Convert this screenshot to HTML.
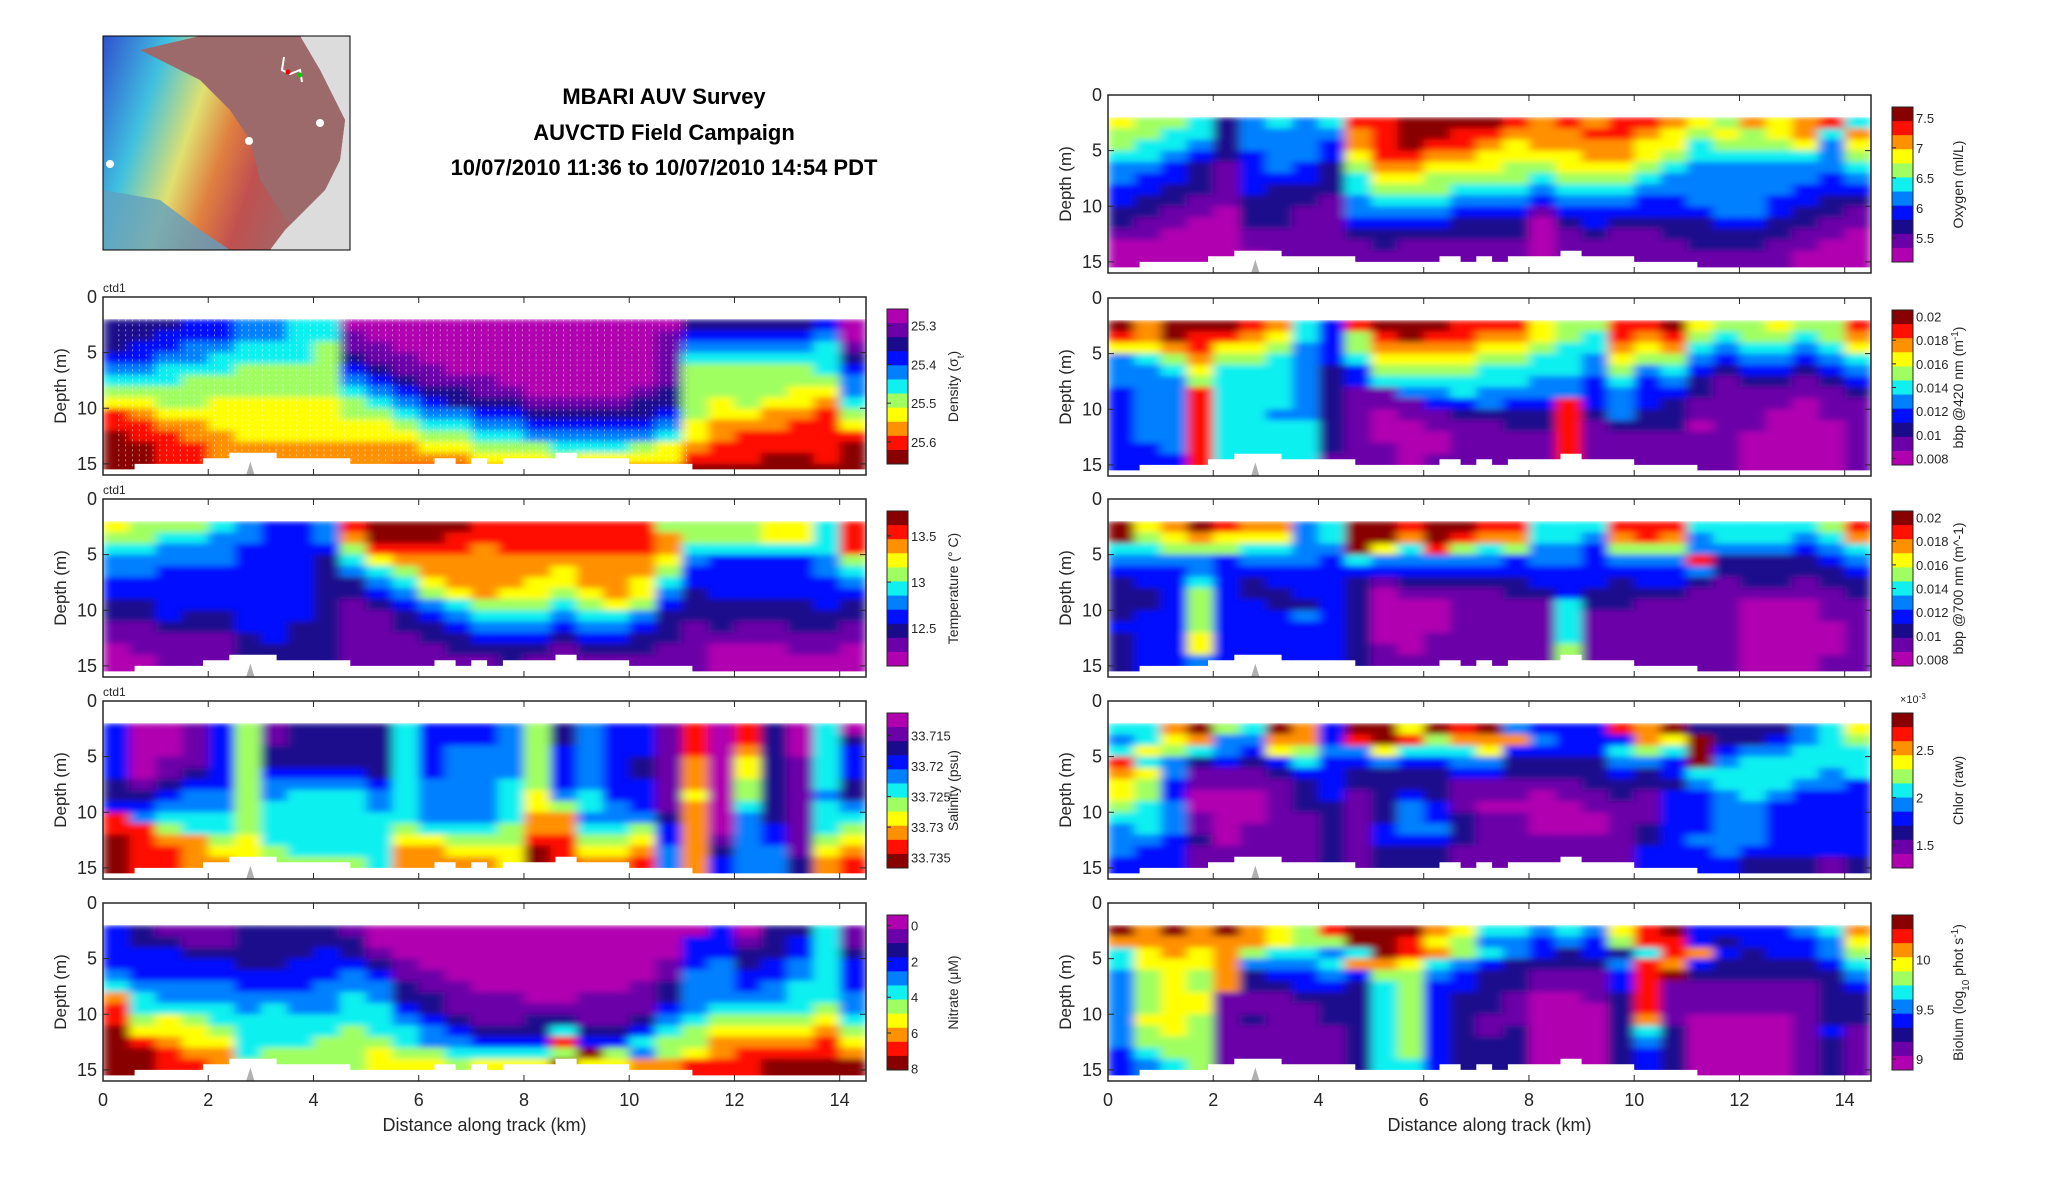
<!DOCTYPE html>
<html><head><meta charset="utf-8"><title>MBARI AUV Survey</title>
<style>
html,body{margin:0;padding:0;background:#fff;}
svg{display:block;font-family:"Liberation Sans","DejaVu Sans",sans-serif;}
</style></head>
<body>
<svg id="fig" width="2052" height="1188" viewBox="0 0 2052 1188" xmlns="http://www.w3.org/2000/svg">
  <rect x="0" y="0" width="2052" height="1188" fill="#fff"/>
  <g>
    <defs>
      <linearGradient id="mapgrad" x1="0" y1="0" x2="1" y2="0.3">
        <stop offset="0" stop-color="#3050d0"/>
        <stop offset="0.25" stop-color="#40c0e0"/>
        <stop offset="0.45" stop-color="#e0e070"/>
        <stop offset="0.6" stop-color="#e08040"/>
        <stop offset="0.75" stop-color="#c05050"/>
        <stop offset="1" stop-color="#9c6a6a"/>
      </linearGradient>
      <clipPath id="mapclip"><rect x="103" y="36" width="247" height="214"/></clipPath>
      <filter id="soft" x="-5%" y="-10%" width="110%" height="120%">
        <feGaussianBlur stdDeviation="5 3" edgeMode="duplicate"/>
      </filter>
    </defs>
    <g clip-path="url(#mapclip)">
      <rect x="103" y="36" width="247" height="214" fill="#dcdcdc"/>
      <polygon points="103,36 300,36 320,70 345,120 340,160 325,190 305,210 285,230 270,250 103,250" fill="url(#mapgrad)"/>
      <polygon points="200,36 300,36 320,70 345,120 340,160 325,190 305,210 290,225 260,180 250,140 230,110 200,80 160,60 140,50" fill="#9c6a6a"/>
      <polygon points="103,190 160,200 200,230 230,250 103,250" fill="#60a0c0" opacity="0.8"/>
      <circle cx="110" cy="164" r="4" fill="#fff"/>
      <circle cx="249" cy="141" r="4" fill="#fff"/>
      <circle cx="320" cy="123" r="4" fill="#fff"/>
      <polyline points="284,57 282,70 290,74 300,70 302,82" fill="none" stroke="#fff" stroke-width="2"/>
      <circle cx="288" cy="72" r="2.5" fill="#e00"/>
      <circle cx="300" cy="75" r="2.5" fill="#0c0"/>
    </g>
    <rect x="103" y="36" width="247" height="214" fill="none" stroke="#000" stroke-width="1"/>
  </g>
  <g font-weight="bold" font-size="22" text-anchor="middle" fill="#000">
    <text x="664" y="104">MBARI AUV Survey</text>
    <text x="664" y="140">AUVCTD Field Campaign</text>
    <text x="664" y="175">10/07/2010 11:36 to 10/07/2010 14:54 PDT</text>
  </g>
  <g id="panels"></g>
</svg>
<script>
// ---- data: color levels (0=magenta ... a=dark red), rows = depth 2..15 m, cols = 0.25..14.25 km ----
const xTicks = [0,2,4,6,8,10,12,14];
const yTicks = [0,5,10,15];
const bottomKm    = [0,0.6,1.9,2.4,3.3,4.7,6.3,6.7,7.0,7.3,7.6,8.6,9.0,10.0,11.2,14.5];
const bottomDepth = [15.5,15,14.5,14,14.5,15,14.5,15,14.5,15,14.5,14,14.5,15,15.5,15.5];

const oxygenLevels = [
"76652454599aaaa98989987687"+"8959",
"66552444489aa998889987676"+"7858",
"65542444389a998788887756"+"66747",
"5543234437998877778876555"+"5546",
"4432134326887776677765444"+"4445",
"4332133325776666566654444"+"4434",
"3322132225666555455544444"+"4333",
"3221122214555444344433444"+"3322",
"2211022114444333133333344"+"3221",
"2110022113333222023222233"+"2211",
"1100011112222222012112222"+"2110",
"0000011111211111011111222"+"1100",
"0000001111111111011111111"+"1000",
"0000001111111111011111111"+"1000"];
const bbp420Levels = [
"a8aaa98539aaa99976699a766"+"7669",
"98a99875369a9988765989656"+"6568",
"7789776436888877655878545"+"5457",
"4568665435777766554766434"+"4345",
"4457555423666655554645323"+"3234",
"4446555423555555443534212"+"2123",
"3449555421144544443433211"+"1112",
"3449555421113343393432111"+"1011",
"3449554421011222292422111"+"0011",
"3449555521001112291222011"+"0001",
"3449555521000111191111110"+"0001",
"3349555521100111191111110"+"0001",
"3339555511101111191111110"+"0001",
"3339555511101111191111110"+"0001"];
const bbp700Levels = [
"a78a98845aa9aa99555999555"+"5569",
"a67877745aa8a988554898455"+"5458",
"556665544a75965644366644"+"44345",
"4444344435444443443444922"+"2234",
"3334333333333333333333422"+"2223",
"2335323332122222333233212"+"2122",
"2236322332011112232222111"+"1112",
"2236332232000111152211110"+"0011",
"2336333432000111151111110"+"0011",
"3336333332000111151111110"+"0001",
"2337333332001111151111110"+"0001",
"2337333332101111161111110"+"0001",
"2334333332111111161111110"+"0011",
"2334333332111111161111110"+"0011"];
const chlorLevels = [
"558a65a83aa7a9a433398a222"+"2457",
"4578448839a96888433387a22"+"3456",
"5765437644755573333565a34"+"4555",
"9542323533433442222443a45"+"5555",
"8741112332222332222323555"+"5545",
"7631111232222111112222455"+"5443",
"7630001231232111011213345"+"4333",
"6540001221243100001113344"+"3333",
"5541001121243211000113344"+"3333",
"4541011121344211000123344"+"3333",
"4432011121333211111123444"+"3333",
"4331111121222111111133343"+"3333",
"3331111121222111111133332"+"2212",
"3331111121222111111133332"+"2212"];
const biolumLevels = [
"a8a8a8769aaa875545479a333"+"3458",
"88888876 6aa976443436993".replace(' ','')+"23"+"3347",
"5787865545a98654323259832"+"3346",
"5777844458875432222498322"+"2235",
"467682334366432211139a222"+"2224",
"4676822332563322111391111"+"1123",
"4677111222563221001291111"+"1122",
"4677111122563221000291111"+"1122",
"4776121122563211000281000"+"0122",
"4676111112563212000252000"+"0131",
"4666111112563222000242000"+"0121",
"3566111112563222000232000"+"0121",
"3456111112553222000232000"+"0121",
"3456111112553222000232000"+"0121"];
const densityLevels = [
"2223344550000000000000222"+"2230",
"2233344551000000000001333"+"3340",
"2334455561100000000001444"+"4451",
"3344555562110000000001555"+"5552",
"4455566663211000000001666"+"6653",
"5556666664321110000001666"+"6664",
"6666666665432211000012666"+"6774",
"7766777776543222111122676"+"7785",
"9877777776654433222223677"+"8896",
"9988777777765544333334788"+"8997",
"a998877777776655444445789"+"9999",
"aa99888888887766655567899"+"999a",
"aa99888888888877767777999"+"aa9a",
"aa99a88888899988889999aaa"+"aaaa"];
const tempLevels = [
"7666543349aaaa99999996666"+"7759",
"6655443348aaa999999998666"+"7759",
"5544433336999989999998555"+"5559",
"4444433325788888888887433"+"3346",
"4433333324568888878886333"+"3345",
"3333333322457888778875333"+"3334",
"3333333322346787767874233"+"3333",
"2233333321234566656763222"+"2232",
"2232233321123455545542222"+"2222",
"1122233221122344434432121"+"1221",
"1111123221112233323322111"+"1111",
"0111122221111222212221100"+"0110",
"0011122221111112111111100"+"0000",
"0011122221111112111111100"+"0000"];
const salinityLevels = [
"3001361222253334624331909"+"2050",
"3001361222253334624331909"+"2052",
"3001362222253444634331908"+"2053",
"3011362222253444634321807"+"2153",
"3012363333253444634321807"+"2153",
"2123364444354445634331806"+"2152",
"2234464555454445745331706"+"2142",
"3344465555454445765431805"+"2154",
"9455565555554445884442804"+"2155",
"9965565555565556885563804"+"3156",
"a988675555577666996673814"+"3167",
"a998776555588777a97784824"+"4178",
"a998876666588887a98894834"+"4289",
"a998876666588887a98894834"+"4289"];
const nitrateLevels = [
"3211122221000000000000030"+"2251",
"3221122222000000000000331"+"2351",
"3332222232100000000000332"+"2352",
"3333322333210000000001342"+"3453",
"4333333334311000000001443"+"3453",
"5444433344421100000012443"+"4553",
"8544444445422111001112444"+"4554",
"9555545445532111111113455"+"5564",
"9676555555543211221124566"+"6675",
"a777655556554322252235677"+"7786",
"a987755566654433393356688"+"8897",
"aa9885666676655556a646789"+"9998",
"aa998666667776777a7788999"+"aaaa",
"aa998666667776777a7788999"+"aaaa"];

const densityTicks = [25.3,25.4,25.5,25.6];
const tempTicks = [13.5,13,12.5];
const salinityTicks = [33.715,33.72,33.725,33.73,33.735];
const nitrateTicks = [0,2,4,6,8];
const oxygenTicks = [7.5,7,6.5,6,5.5];
const bbpTicks = [0.02,0.018,0.016,0.014,0.012,0.01,0.008];
const chlorTicks = [2.5,2,1.5];
const biolumTicks = [10,9.5,9];

const cmap = ['#b000b0','#6c00a8','#1a0a8c','#0010ff','#0080ff','#10f0f0','#a0ff60','#ffff00','#ff9000','#ff1000','#880000'];
const NS = 'http://www.w3.org/2000/svg';
const KM_MAX = 14.5, D_MAX = 16, PW = 763, PH = 178;

function el(tag, attrs, parent){ const e=document.createElementNS(NS,tag); for(const k in attrs) e.setAttribute(k,attrs[k]); if(parent) parent.appendChild(e); return e; }

const panels = [
 {id:'density', x0:103, y0:297, grid:densityLevels, ticks:densityTicks, cbTop:25.257, cbBot:25.657, hotTop:false, label:'Density (σ<tspan baseline-shift="sub" font-size="10">t</tspan>)', ctd:true, bottom:false, dots:true},
 {id:'temperature', x0:103, y0:499, grid:tempLevels, ticks:tempTicks, cbTop:13.77, cbBot:12.09, hotTop:true, label:'Temperature (° C)', ctd:true, bottom:false},
 {id:'salinity', x0:103, y0:701, grid:salinityLevels, ticks:salinityTicks, cbTop:33.7113, cbBot:33.7367, hotTop:false, label:'Salinity (psu)', ctd:true, bottom:false},
 {id:'nitrate', x0:103, y0:903, grid:nitrateLevels, ticks:nitrateTicks, cbTop:-0.6, cbBot:8.07, hotTop:false, label:'Nitrate (μM)', ctd:false, bottom:true},
 {id:'oxygen', x0:1108, y0:95, grid:oxygenLevels, ticks:oxygenTicks, cbTop:7.68, cbBot:5.1, hotTop:true, label:'Oxygen (ml/L)', bottom:false},
 {id:'bbp420', x0:1108, y0:298, grid:bbp420Levels, ticks:bbpTicks, cbTop:0.02056, cbBot:0.00744, hotTop:true, label:'bbp @420 nm (m<tspan baseline-shift="super" font-size="10">-1</tspan>)', bottom:false},
 {id:'bbp700', x0:1108, y0:499, grid:bbp700Levels, ticks:bbpTicks, cbTop:0.02056, cbBot:0.00744, hotTop:true, label:'bbp @700 nm (m^-1)', bottom:false},
 {id:'chlor', x0:1108, y0:701, grid:chlorLevels, ticks:chlorTicks, cbTop:2.89, cbBot:1.26, hotTop:true, label:'Chlor (raw)', bottom:false, exp:true},
 {id:'biolum', x0:1108, y0:903, grid:biolumLevels, ticks:biolumTicks, cbTop:10.45, cbBot:8.89, hotTop:true, label:'Biolum (log<tspan baseline-shift="sub" font-size="10">10</tspan> phot s<tspan baseline-shift="super" font-size="10">-1</tspan>)', bottom:true}
];

const root = document.getElementById('panels');
const defs = el('defs',{},root);

panels.forEach(p=>{
  const xs = km => p.x0 + km/KM_MAX*PW;
  const ys = d => p.y0 + d/D_MAX*PH;
  const g = el('g',{},root);
  
  
  const cp = el('clipPath',{id:'clip-'+p.id},defs);
  el('rect',{x:p.x0,y:ys(2),width:PW,height:PH-(ys(2)-p.y0)},cp);
  const plot = el('g',{'clip-path':'url(#clip-'+p.id+')'},g);
  
  
  const cells = el('g',{filter:'url(#soft)'},plot);
  p.grid.forEach((row,r)=>{
    for(let c=0;c<29;c++){
      const ch = row[c] || row[row.length-1];
      const v = parseInt(ch,16);
      const x1 = xs(c*0.5), x2 = xs(c*0.5+0.5);
      const y1 = ys(2+r), y2 = ys(3+r);
      const cell = el('rect',{x:x1.toFixed(1),y:y1.toFixed(1),width:(x2-x1+0.6).toFixed(1),height:(y2-y1+0.6).toFixed(1),fill:cmap[isNaN(v)?0:v]},cells);
      
      
    }
  });
  if(p.dots){
    const dots = el('g',{stroke:'#fff','stroke-opacity':'0.5','stroke-width':'1','stroke-dasharray':'2 3'},plot);
    
    
    for(let k=0.3;k<11.2;k+=0.13){ el('line',{x1:xs(k),x2:xs(k),y1:ys(2),y2:ys(15.5)},dots); }
  }
  let pts = [];
  for(let i=0;i<bottomKm.length-1;i++){
    pts.push(xs(bottomKm[i]).toFixed(1)+','+ys(bottomDepth[i]).toFixed(1));
    pts.push(xs(bottomKm[i+1]).toFixed(1)+','+ys(bottomDepth[i]).toFixed(1));
  }
  pts.push(xs(KM_MAX)+','+ys(D_MAX)); pts.push(xs(0)+','+ys(D_MAX));
  const mask = el('polygon',{points:pts.join(' '),fill:'#fff'},plot);
  
  
  const spike = el('polygon',{points:[xs(2.72)+','+ys(16),xs(2.8)+','+ys(14.8),xs(2.88)+','+ys(16)].join(' '),fill:'#b0b0b0'},plot);
  
  
  const frame = el('rect',{x:p.x0,y:p.y0,width:PW,height:PH,fill:'none',stroke:'#262626','stroke-width':'1.5'},g);
  
  
  xTicks.forEach(t=>{
    el('line',{x1:xs(t),x2:xs(t),y1:p.y0,y2:p.y0+6,stroke:'#262626','stroke-width':'1'},g);
    el('line',{x1:xs(t),x2:xs(t),y1:p.y0+PH,y2:p.y0+PH-6,stroke:'#262626','stroke-width':'1'},g);
    if(p.bottom){
      const tl = el('text',{x:xs(t),y:p.y0+PH+25,'font-size':'18','text-anchor':'middle',fill:'#262626'},g);
      tl.textContent = t;
      
      
    }
  });
  yTicks.forEach(t=>{
    el('line',{x1:p.x0,x2:p.x0+6,y1:ys(t),y2:ys(t),stroke:'#262626','stroke-width':'1'},g);
    el('line',{x1:p.x0+PW,x2:p.x0+PW-6,y1:ys(t),y2:ys(t),stroke:'#262626','stroke-width':'1'},g);
    const tl = el('text',{x:p.x0-6,y:ys(t)+6,'font-size':'18','text-anchor':'end',fill:'#262626'},g);
    tl.textContent = t;
    
    
  });
  const yl = el('text',{x:0,y:0,'font-size':'17','text-anchor':'middle',fill:'#262626',transform:'translate('+(p.x0-37)+','+(p.y0+PH/2)+') rotate(-90)'},g);
  yl.textContent = 'Depth (m)';
  
  
  if(p.bottom){
    const xl = el('text',{x:p.x0+PW/2,y:p.y0+PH+50,'font-size':'18','text-anchor':'middle',fill:'#262626'},g);
    xl.textContent = 'Distance along track (km)';
    
    
  }
  if(p.ctd){
    const ct = el('text',{x:p.x0,y:p.y0-5,'font-size':'12',fill:'#262626'},g);
    ct.textContent = 'ctd1';
    
    
  }
  const cbx = p.x0+PW+21, cby = p.y0+12, cbw = 21, cbh = 155;
  const cb = el('g',{},g);
  
  
  const n = cmap.length;
  for(let i=0;i<n;i++){
    const idx = p.hotTop ? n-1-i : i;
    el('rect',{x:cbx,y:(cby+i*cbh/n).toFixed(2),width:cbw,height:(cbh/n+0.5).toFixed(2),fill:cmap[idx]},cb);
  }
  el('rect',{x:cbx,y:cby,width:cbw,height:cbh,fill:'none',stroke:'#262626','stroke-width':'1'},cb);
  p.ticks.forEach(t=>{
    const ty = cby + (t-p.cbTop)/(p.cbBot-p.cbTop)*cbh;
    el('line',{x1:cbx,x2:cbx+4,y1:ty,y2:ty,stroke:'#262626'},cb);
    const tl = el('text',{x:cbx+cbw+3,y:ty+5,'font-size':'13',fill:'#262626'},cb);
    tl.textContent = t;
    
    
  });
  if(p.exp){
    const ex = el('text',{x:cbx+8,y:cby-10,'font-size':'11',fill:'#262626'},cb);
    ex.innerHTML = '×10<tspan baseline-shift="super" font-size="8">-3</tspan>';
    
    
  }
  const cl = el('text',{x:0,y:0,'font-size':'14','text-anchor':'middle',fill:'#262626',transform:'translate('+(cbx+cbw+50)+','+(cby+cbh/2)+') rotate(-90)'},cb);
  cl.innerHTML = p.label;
  
  
});
</script>
</body></html>
